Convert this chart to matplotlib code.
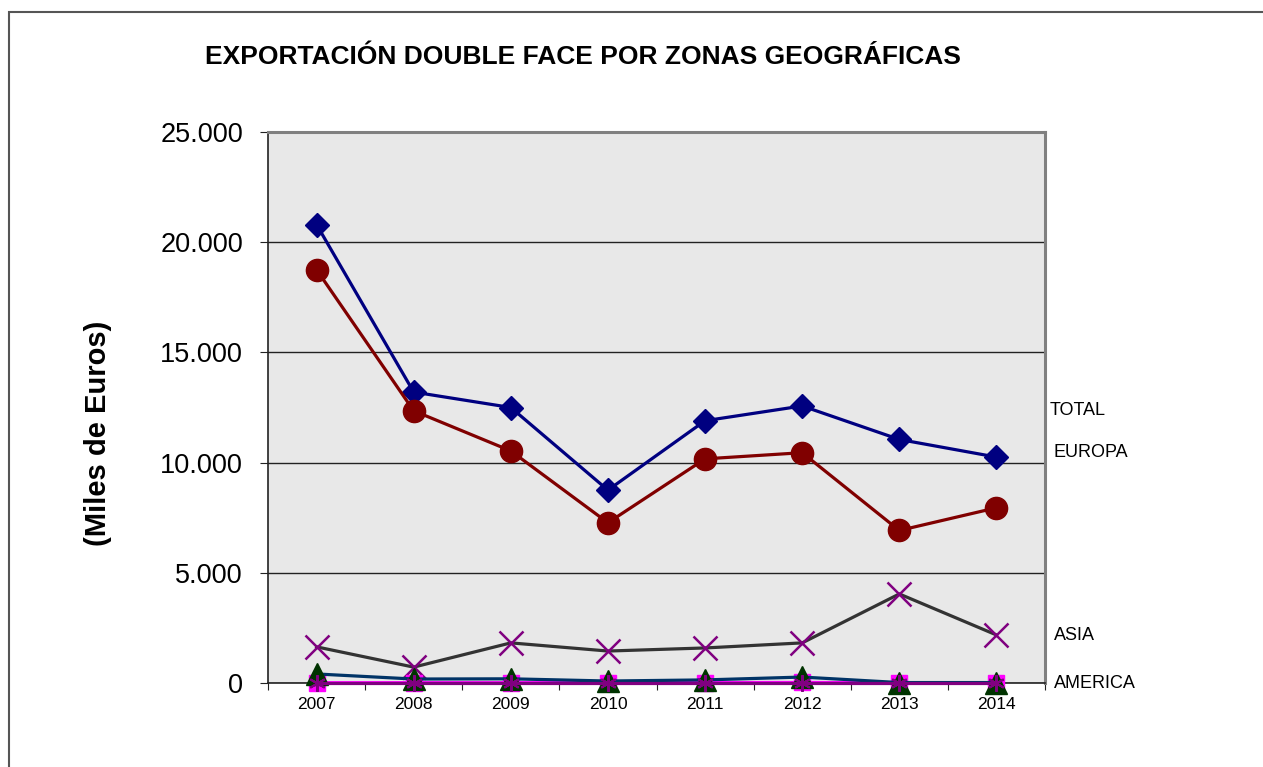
import numpy as np
import matplotlib.pyplot as plt
from matplotlib.patches import Rectangle
from matplotlib.ticker import FuncFormatter

plt.rcParams['font.family'] = ['Liberation Sans', 'DejaVu Sans']

years = ['2007', '2008', '2009', '2010', '2011', '2012', '2013', '2014']
total = [20800, 13200, 12500, 8750, 11900, 12570, 11050, 10250]
europa = [18750, 12350, 10530, 7270, 10170, 10450, 6920, 7950]
asia = [1640, 720, 1820, 1450, 1590, 1820, 4040, 2180]
america = [410, 180, 190, 90, 140, 270, 20, 20]
otros1 = [15, 15, 15, 20, 20, 25, 15, 15]
otros2 = [10, 10, 10, 10, 10, 10, 10, 10]

W, H = 1263, 767
fig = plt.figure(figsize=(W / 100, H / 100), dpi=100)
ax = fig.add_axes([268 / W, 1 - 683 / H, (1045 - 268) / W, (683 - 132) / H])
ax.set_facecolor('#e8e8e8')

x = np.arange(len(years))
ax.plot(x, total, color='#000080', lw=2.3, marker='D', ms=12, zorder=5, clip_on=False)
ax.plot(x, europa, color='#800000', lw=2.3, marker='o', ms=16, zorder=5, clip_on=False)
ax.plot(x, asia, color='#333333', lw=2.3, marker='x', ms=17, mec='#800080',
        mew=1.8, zorder=5, clip_on=False)
ax.plot(x, otros1, color='#ff00ff', lw=2.3, marker='s', ms=11, zorder=5, clip_on=False)
ax.plot(x, america, color='#003366', lw=2.3, marker='^', ms=16, mfc='#003300',
        mec='#003300', zorder=6, clip_on=False)
ax.plot(x, otros2, color='#800080', lw=2.3, marker=(6, 2, 0), ms=12, mew=1.5,
        zorder=7, clip_on=False)

ax.set_xlim(-0.5, len(years) - 0.5)
ax.set_ylim(0, 25000)
ax.set_yticks(np.arange(0, 25001, 5000))
ax.yaxis.set_major_formatter(FuncFormatter(lambda v, p: f'{v:,.0f}'.replace(',', '.')))
ax.yaxis.grid(True, color='#222222', lw=1)
ax.set_axisbelow(True)

ax.set_xticks(np.arange(-0.5, len(years), 1))
ax.set_xticklabels([])
ax.set_xticks(x, minor=True)
ax.set_xticklabels(years, minor=True)
ax.tick_params(axis='x', which='major', length=5, direction='out', color='#222222')
ax.tick_params(axis='x', which='minor', length=0, pad=10, labelsize=12.5)
ax.tick_params(axis='y', length=6, direction='out', pad=12, labelsize=19.5,
               color='#222222')

for s in ['top', 'right']:
    ax.spines[s].set_color('#808080')
    ax.spines[s].set_linewidth(2.2)
for s in ['left', 'bottom']:
    ax.spines[s].set_color('#222222')
    ax.spines[s].set_linewidth(1.2)

# etiquetas de series a la derecha
ax.text(7.55, 12360, 'TOTAL', fontsize=13, va='center', clip_on=False)
ax.text(7.59, 10450, 'EUROPA', fontsize=13, va='center', clip_on=False)
ax.text(7.59, 2140, 'ASIA', fontsize=13, va='center', clip_on=False)
ax.text(7.59, 0, 'AMERICA', fontsize=13, va='center', clip_on=False)

fig.text(583 / W, 1 - 57 / H, 'EXPORTACIÓN DOUBLE FACE POR ZONAS GEOGRÁFICAS',
         fontsize=19, fontweight='bold', ha='center', va='center')
fig.text(98 / W, 1 - 433 / H, '(Miles de Euros)', fontsize=21, fontweight='bold',
         rotation=90, ha='center', va='center')

fig.patches.append(Rectangle((8.5 / W, -0.1), 2, 1 - 12 / H + 0.1,
                             transform=fig.transFigure, fill=False,
                             edgecolor='#555555', lw=1.5))

fig.savefig('out.png', dpi=100)
